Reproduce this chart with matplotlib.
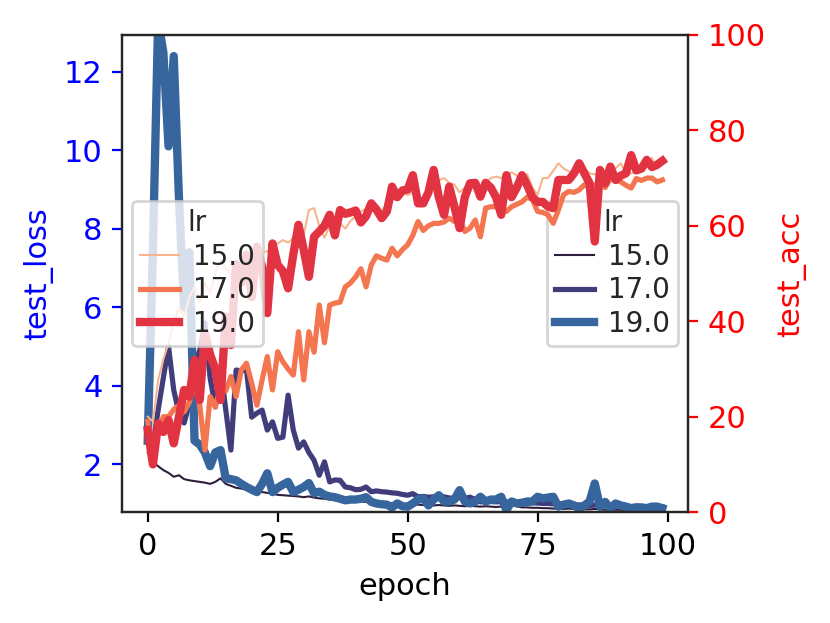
import matplotlib
matplotlib.use("Agg")
import matplotlib.pyplot as plt
from matplotlib.lines import Line2D

# значения по эпохам
epochs = list(range(100))
lr_levels = ["15.0", "17.0", "19.0"]

loss_15 = [2.3, 2.05, 1.95, 1.85, 1.78, 1.68, 1.72, 1.62, 1.59, 1.57,
           1.55, 1.53, 1.5, 1.55, 1.64, 1.5, 1.45, 1.4, 1.38, 1.35,
           1.33, 1.3, 1.29, 1.27, 1.25, 1.22, 1.21, 1.2, 1.19, 1.18,
           1.16, 1.18, 1.15, 1.13, 1.12, 1.1, 1.08, 1.09, 1.07, 1.06,
           1.06, 1.05, 1.04, 1.05, 1.03, 1.02, 1.0, 1.01, 0.99, 0.98,
           0.97, 0.98, 0.97, 0.96, 0.96, 0.95, 0.96, 0.95, 0.94, 0.95,
           0.94, 0.93, 0.94, 0.93, 0.92, 0.93, 0.92, 0.91, 0.92, 0.91,
           0.98, 0.93, 0.9, 0.9, 0.89, 0.89, 0.88, 0.88, 0.87, 0.87,
           0.86, 0.87, 0.86, 0.86, 0.85, 0.85, 0.86, 0.85, 0.84, 0.85,
           0.84, 0.84, 0.83, 0.84, 0.83, 0.83, 0.83, 0.82, 0.83, 0.82]
loss_17 = [2.87, 2.5, 3.38, 4.2, 5.0, 3.89, 3.3, 3.05, 3.55, 4.57,
           4.9, 5.6, 4.2, 3.46, 4.47, 3.4, 2.36, 4.4, 4.38, 4.4,
           3.2, 3.3, 3.38, 2.87, 3.08, 2.66, 2.69, 3.76, 2.87, 2.41,
           2.57, 2.3, 2.1, 1.72, 2.06, 1.55, 1.6, 1.59, 1.42, 1.4,
           1.35, 1.36, 1.42, 1.3, 1.32, 1.3, 1.29, 1.27, 1.26, 1.23,
           1.21, 1.25, 1.17, 1.18, 1.16, 1.17, 1.15, 1.17, 1.14, 1.13,
           1.14, 1.13, 1.16, 1.1, 1.04, 1.06, 1.05, 1.04, 1.05, 1.04,
           1.03, 1.02, 1.03, 1.0, 1.02, 1.01, 1.0, 1.0, 0.99, 1.0,
           0.98, 0.97, 0.98, 0.96, 0.97, 0.95, 0.96, 0.95, 0.95, 0.94,
           0.94, 0.93, 0.93, 0.92, 0.93, 0.92, 0.91, 0.93, 0.92, 0.91]
loss_19 = [2.6, 7.5, 13.3, 12.5, 10.1, 12.4, 8.8, 6.0, 7.4, 2.6,
           2.5, 2.3, 1.95, 2.3, 2.36, 1.64, 1.62, 1.59, 1.5, 1.42,
           1.35, 1.29, 1.5, 1.77, 1.29, 1.4, 1.48, 1.55, 1.29, 1.35,
           1.42, 1.52, 1.26, 1.3, 1.22, 1.18, 1.16, 1.12, 1.08, 1.1,
           1.1, 1.12, 1.16, 1.04, 1.0, 0.98, 0.97, 0.9, 1.0, 0.93,
           0.92, 1.0, 1.1, 1.13, 0.95, 1.1, 1.21, 1.05, 1.05, 1.1,
           1.34, 1.05, 1.0, 1.05, 1.17, 1.05, 1.1, 1.1, 1.17, 0.83,
           1.05, 1.0, 1.02, 1.05, 1.05, 1.17, 1.13, 1.15, 1.17, 0.92,
           0.97, 1.0, 0.95, 0.87, 0.95, 1.05, 1.51, 0.92, 1.04, 0.87,
           1.0, 0.95, 0.92, 0.88, 0.9, 0.9, 0.88, 0.92, 0.92, 0.88]

acc_15 = [20, 19, 27.7, 32, 35.4, 39.6, 43, 41, 45, 47.2,
          44, 48, 46, 50, 52.8, 51, 50, 52, 49.5, 53.4,
          53.5, 55, 54.6, 54.6, 55.5, 56.3, 57, 56.5, 57.4, 59.4,
          58, 63.3, 63.7, 60, 57.5, 60, 61.6, 60.5, 59.4, 61,
          62, 63, 63.6, 63.5, 62.5, 63.2, 64.5, 65.4, 65.8, 67,
          66.4, 67, 66, 65.5, 67.5, 68.9, 69.5, 70, 69, 68.6,
          67, 68, 69.2, 68.5, 68, 69, 70, 70.3, 70, 70.5,
          71.2, 70.5, 70, 70.8, 68, 66.5, 70, 70, 71.5, 73.1,
          72, 71.4, 70.8, 71.5, 72, 71, 70.8, 70.8, 69, 71.6,
          72, 73.1, 71, 71, 71.2, 72, 72.3, 74.2, 72, 73]
acc_17 = [19, 13.7, 17, 20, 20, 21.5, 22.4, 21, 23, 27,
          22.4, 13, 24.2, 22, 26.3, 25.4, 28.4, 24.2, 29.8, 31.2,
          27, 22.4, 27.7, 32.6, 25.6, 33.6, 31.5, 30, 28.7, 37.8,
          27.7, 37.8, 33.5, 43.4, 35.5, 43.4, 43.8, 44, 47.2, 48,
          49.3, 51, 47.2, 51.8, 53.7, 53.2, 52.8, 55.3, 53.7, 55,
          56, 58, 60.9, 59, 60, 60.5, 60.5, 60.8, 61.6, 60.9,
          61.5, 58.8, 59.5, 61.2, 57.7, 63.7, 64, 64, 63.7, 63,
          64, 64.5, 65, 66, 65.5, 63, 62.8, 62.3, 60.5, 63.3,
          66.5, 67.2, 67, 67.5, 68.6, 68, 68.5, 69.2, 68, 69.9,
          69.5, 69.2, 68.5, 67.9, 69.9, 69.5, 70, 70, 69.2, 69.6]
acc_19 = [17.2, 10, 18.6, 16.8, 19.3, 14.4, 20, 25.6, 24.2, 31.9,
          23.5, 37.5, 33, 30, 23.5, 41, 35, 52, 48, 54,
          45, 55.6, 51.4, 41.7, 56.3, 51.8, 50.5, 46.9, 54, 60.2,
          55, 49.3, 57.7, 58.8, 60, 62.3, 58, 63.3, 62.5, 62.8,
          63.2, 60.7, 62, 64.7, 63.4, 61.6, 63, 68.2, 66, 67.4,
          67.6, 70.6, 64.7, 64.7, 67, 71.7, 66, 62.3, 68.2, 64,
          59.5, 66, 68.9, 69, 66.1, 69, 68, 66, 62.3, 70.6,
          66, 68, 70.6, 68.5, 66, 65, 65, 64, 63.7, 69.6,
          69.6, 69.6, 71, 73.1, 71, 68.9, 56.7, 71.7, 68.9, 72.4,
          69.6, 70.5, 71, 74.8, 71.6, 72, 73.8, 72.3, 72.8, 73.6]

loss_series = [loss_15, loss_17, loss_19]
acc_series = [acc_15, acc_17, acc_19]

# палитры как у seaborn (mako / rocket) и толщины линий по lr
loss_colors = ["#2e1e3b", "#413d7b", "#37659e"]
acc_colors = ["#f6b48f", "#f37651", "#e13342"]
widths = [0.75, 1.875, 3.0]

plt.rcParams["font.family"] = ["DejaVu Sans"]
plt.rcParams["axes.edgecolor"] = "#262626"

fig = plt.figure(figsize=(4.15, 3.115), dpi=200)
ax1 = fig.add_axes([0.147, 0.178, 0.682, 0.766])
ax2 = ax1.twinx()

for vals, c, w in zip(loss_series, loss_colors, widths):
    ax1.plot(epochs, vals, color=c, lw=w)
for vals, c, w in zip(acc_series, acc_colors, widths):
    ax2.plot(epochs, vals, color=c, lw=w)

ax1.set_ylim(0.78, 12.94)
ax2.set_ylim(0, 100)
ax1.set_xlim(-4.95, 103.95)
ax1.set_yticks([2, 4, 6, 8, 10, 12])
ax1.set_xticks([0, 25, 50, 75, 100])

ax1.set_xlabel("epoch", fontsize=11)
ax1.set_ylabel("test_loss", color="blue", fontsize=11)
ax2.set_ylabel("test_acc", color="red", fontsize=11)
ax1.tick_params(axis="y", colors="blue", labelsize=11)
ax1.tick_params(axis="x", labelsize=11)
ax2.tick_params(axis="y", colors="red", labelsize=11)


# легенда с заголовком "lr", толщина линий как на графике
def make_legend(ax, colors, loc):
    handles = [Line2D([], [], color=c, lw=w) for c, w in zip(colors, widths)]
    leg = ax.legend(handles, lr_levels, title="lr", loc=loc, fontsize=10,
                    title_fontsize=10, handlelength=1.4, handletextpad=0.5,
                    labelspacing=0.2, borderpad=0.3, borderaxespad=0.35,
                    labelcolor="#262626")
    leg.get_title().set_color("#262626")
    return leg


make_legend(ax1, loss_colors, "center right")
make_legend(ax2, acc_colors, "center left")

fig.savefig("out.png", dpi=200)
